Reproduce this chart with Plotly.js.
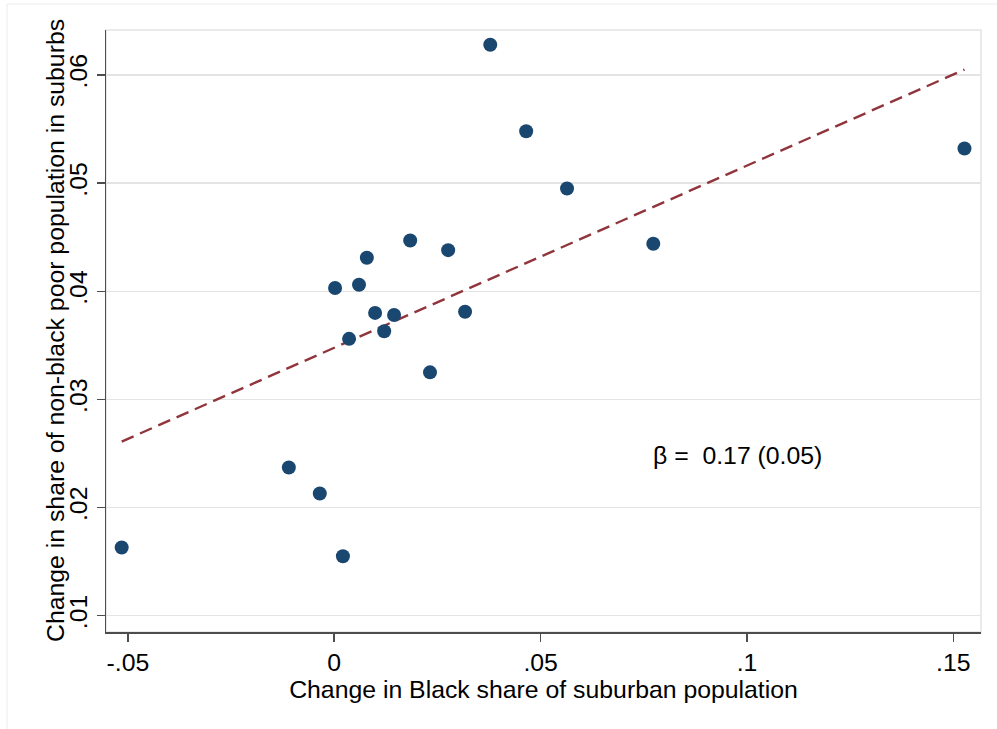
<!DOCTYPE html>
<html>
<head>
<meta charset="utf-8">
<script src="https://cdn.plot.ly/plotly-3.0.1.min.js"></script>
<style>
html,body{margin:0;padding:0;background:#fff;}
#chart{width:997px;height:729px;}
</style>
</head>
<body>
<div id="chart"></div>
<script>
// Change in Black share of suburban population
const blackShareChange = [-0.0515, -0.0110, -0.0035, 0.0021, 0.0002, 0.0036, 0.0060, 0.0079, 0.0099, 0.0121,
  0.0145, 0.0184, 0.0232, 0.0276, 0.0317, 0.0378, 0.0465, 0.0564, 0.0773, 0.1527];
// Change in share of non-black poor population in suburbs
const nonBlackPoorChange = [0.0163, 0.0237, 0.0213, 0.0155, 0.0403, 0.0356, 0.0406, 0.0431, 0.0380, 0.0363,
  0.0378, 0.0447, 0.0325, 0.0438, 0.0381, 0.0628, 0.0548, 0.0495, 0.0444, 0.0532];
// Fitted line (as drawn in the reference, beta = 0.17)
const fitX = [-0.0515, 0.1527];
const fitY = [0.0261, 0.0605];
const xTickVals = [-0.05, 0, 0.05, 0.1, 0.15];
const xTickText = ["-.05", "0", ".05", ".1", ".15"];
const yTickVals = [0.01, 0.02, 0.03, 0.04, 0.05, 0.06];
const yTickText = [".01", ".02", ".03", ".04", ".05", ".06"];
const xTitle = "Change in Black share of suburban population";
const yTitle = "Change in share of non-black poor population in suburbs";
const betaLabel = "β =\u00a0\u00a00.17 (0.05)";

const font = "Liberation Sans, Arial, sans-serif";
const fs = 24.8;
const traces = [
  {x: fitX, y: fitY, type:'scatter', mode:'lines',
   line:{color:'#90353b', width:2.4, dash:'13px,7px'}, showlegend:false},
  {x: blackShareChange, y: nonBlackPoorChange, type:'scatter', mode:'markers',
   marker:{color:'#1a476f', size:14, line:{width:0}}, showlegend:false}
];
const layout = {
  width:997, height:729,
  margin:{l:106, r:16, t:30, b:97},
  paper_bgcolor:'#fff', plot_bgcolor:'#fff',
  font:{family:font, color:'#000', size:fs},
  xaxis:{range:[-0.0553, 0.1567], tickvals:xTickVals, ticktext:xTickText, automargin:false,
    showgrid:false, zeroline:false, showline:true, linecolor:'#4d4d4d', linewidth:1.5,
    ticks:'outside', ticklen:8, tickwidth:1.5, tickcolor:'#4d4d4d',
    tickfont:{size:fs, family:font},
    title:{text:xTitle, font:{size:fs, family:font}, standoff:0}},
  yaxis:{range:[0.00849, 0.06416], tickvals:yTickVals, ticktext:yTickText, tickangle:-90, automargin:false,
    showgrid:true, gridcolor:'#e4e4e4', gridwidth:1.5, zeroline:false,
    showline:true, linecolor:'#4d4d4d', linewidth:1.5,
    ticks:'outside', ticklen:8, tickwidth:1.5, tickcolor:'#4d4d4d',
    tickfont:{size:fs, family:font}},
  shapes:[
    {type:'rect', xref:'paper', yref:'paper', x0:0, x1:1, y0:0, y1:1, line:{color:'#e4e4e4', width:1.5}, layer:'below'},
    {type:'rect', xref:'paper', yref:'paper', x0:-99/875, x1:1.05, y0:-0.2, y1:1+26/602, line:{color:'#ececec', width:1}, layer:'below'}
  ],
  annotations:[
    {x:0.0768, y:0.0248, xref:'x', yref:'y', text:betaLabel, showarrow:false, xanchor:'left', yanchor:'middle',
     font:{size:fs, family:font, color:'#000'}},
    {x:-51/875, y:0.5, xref:'paper', yref:'paper', text:yTitle, textangle:-90, showarrow:false,
     xanchor:'center', yanchor:'middle', font:{size:fs, family:font, color:'#000'}}
  ]
};
Plotly.newPlot('chart', traces, layout, {displayModeBar:false, staticPlot:true});
</script>
</body>
</html>
